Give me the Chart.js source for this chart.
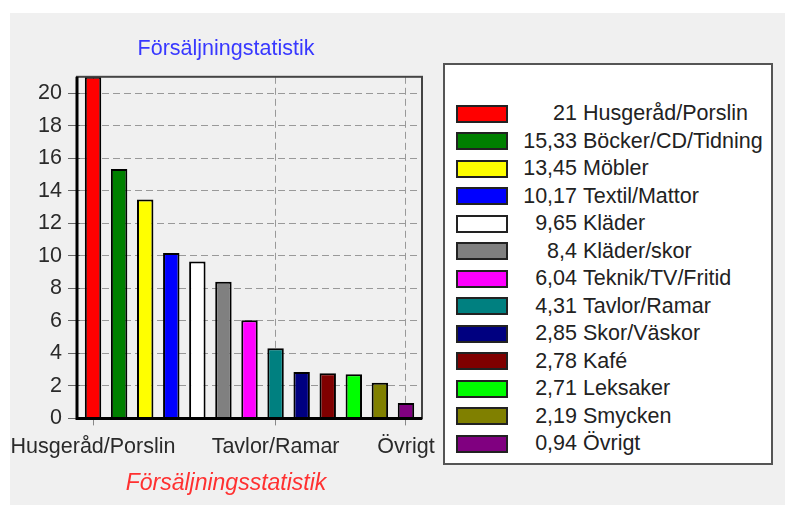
<!DOCTYPE html>
<html>
<head>
<meta charset="utf-8">
<script src="https://cdn.jsdelivr.net/npm/chart.js@4.4.1/dist/chart.umd.min.js"></script>
<style>
  body { margin: 0; background: #fff; width: 795px; height: 510px; position: relative; overflow: hidden;
         font-family: "Liberation Sans", Arial, sans-serif; }
  #panel { position: absolute; left: 10px; top: 13px; width: 775px; height: 492px; background: #f0f0f0; }
  #chart { position: absolute; left: 10px; top: 0; }
  #legend { position: absolute; left: 443px; top: 63px; width: 330px; height: 402px; box-sizing: border-box;
            background: #fff; border: 2px solid #555; padding-top: 35px; }
  .row { height: 27.5px; display: flex; align-items: center; font-size: 21.5px; color: #222; white-space: nowrap; }
  .sw { width: 52px; height: 18px; box-sizing: border-box; border: 2px solid #222; margin-left: 11px; flex: none; }
  .num { width: 66px; margin-left: 3px; text-align: right; flex: none; }
  .name { margin-left: 6px; }
</style>
</head>
<body>
<div id="panel"></div>
<canvas id="chart" width="432" height="510"></canvas>
<div id="legend"></div>
<script>
const categories = ["Husgeråd/Porslin", "Böcker/CD/Tidning", "Möbler", "Textil/Mattor", "Kläder", "Kläder/skor",
  "Teknik/TV/Fritid", "Tavlor/Ramar", "Skor/Väskor", "Kafé", "Leksaker", "Smycken", "Övrigt"];
const values = [21, 15.33, 13.45, 10.17, 9.65, 8.4, 6.04, 4.31, 2.85, 2.78, 2.71, 2.19, 0.94];
const barColors = ["#ff0000", "#008000", "#ffff00", "#0000ff", "#ffffff", "#808080", "#ff00ff",
  "#008080", "#000080", "#800000", "#00ff00", "#808000", "#800080"];
const yTicks = [0, 2, 4, 6, 8, 10, 12, 14, 16, 18, 20];
const xShown = ["Husgeråd/Porslin", "Tavlor/Ramar", "Övrigt"];
const chartTitle = "Försäljningstatistik";
const axisTitle = "Försäljningsstatistik";

// legend built from the same arrays
const legend = document.getElementById("legend");
categories.forEach((c, i) => {
  const row = document.createElement("div");
  row.className = "row";
  row.innerHTML = '<div class="sw" style="background:' + barColors[i] + '"></div>' +
    '<span class="num">' + String(values[i]).replace(".", ",") + '</span>' +
    '<span class="name">' + c + '</span>';
  legend.appendChild(row);
});

// frame round the plot, thick on the left and bottom
const framePlugin = {
  id: "frame",
  afterDatasetsDraw(chart) {
    const { ctx, chartArea: a } = chart;
    ctx.save();
    ctx.strokeStyle = "#444";
    ctx.lineWidth = 2;
    ctx.strokeRect(a.left - 3, a.top, a.right - a.left + 6, a.bottom - a.top);
    ctx.strokeStyle = "#000";
    ctx.lineWidth = 3;
    ctx.beginPath();
    ctx.moveTo(a.left - 3, a.top);
    ctx.lineTo(a.left - 3, a.bottom);
    ctx.lineTo(a.right + 3, a.bottom);
    ctx.stroke();
    ctx.restore();
  }
};

const isShown = i => xShown.includes(categories[i]);
const font = { size: 21.5, family: "Liberation Sans" };

new Chart(document.getElementById("chart"), {
  type: "bar",
  data: {
    labels: categories,
    datasets: [{
      data: values,
      backgroundColor: barColors,
      borderColor: "#000",
      borderWidth: 2,
      barPercentage: 0.63,
      categoryPercentage: 1
    }]
  },
  options: {
    responsive: false,
    animation: false,
    devicePixelRatio: 1,
    layout: { padding: 0 },
    plugins: {
      legend: { display: false },
      tooltip: { enabled: false },
      title: {
        display: true, text: chartTitle, color: "#3838ff",
        font: { ...font, weight: "normal" },
        padding: { top: 36, bottom: 15 }
      },
      subtitle: {
        display: true, text: axisTitle, position: "bottom", color: "#ff3030",
        font: { size: 23, family: "Liberation Sans", weight: "normal", style: "italic" },
        padding: { top: 6, bottom: 13 }
      }
    },
    scales: {
      x: {
        offset: true,
        grid: {
          offset: false,
          color: c => isShown(c.index) ? "#999" : "transparent",
          tickColor: c => isShown(c.index) ? "#888" : "transparent",
          tickLength: 7,
          tickBorderDash: []
        },
        border: { display: false, dash: [7, 4] },
        ticks: {
          autoSkip: false, maxRotation: 0, padding: 9, color: "#2a2a2a", font,
          callback: (v, i) => isShown(i) ? categories[i] : ""
        },
        afterFit: s => { s.height = 45; s.paddingLeft = 0; s.paddingRight = 0; }
      },
      y: {
        min: 0, max: 21, bounds: "data",
        afterBuildTicks: s => { s.ticks = yTicks.map(v => ({ value: v })); },
        grid: { color: "#999", tickColor: "#666", tickLength: 12, tickBorderDash: [] },
        border: { display: false, dash: [7, 4] },
        ticks: { padding: 6, color: "#2a2a2a", font },
        afterFit: s => { s.width = 70; }
      },
      y2: {
        position: "right",
        grid: { display: false },
        border: { display: false },
        ticks: { display: false },
        afterFit: s => { s.width = 23; }
      }
    }
  },
  plugins: [framePlugin]
});
</script>
</body>
</html>
